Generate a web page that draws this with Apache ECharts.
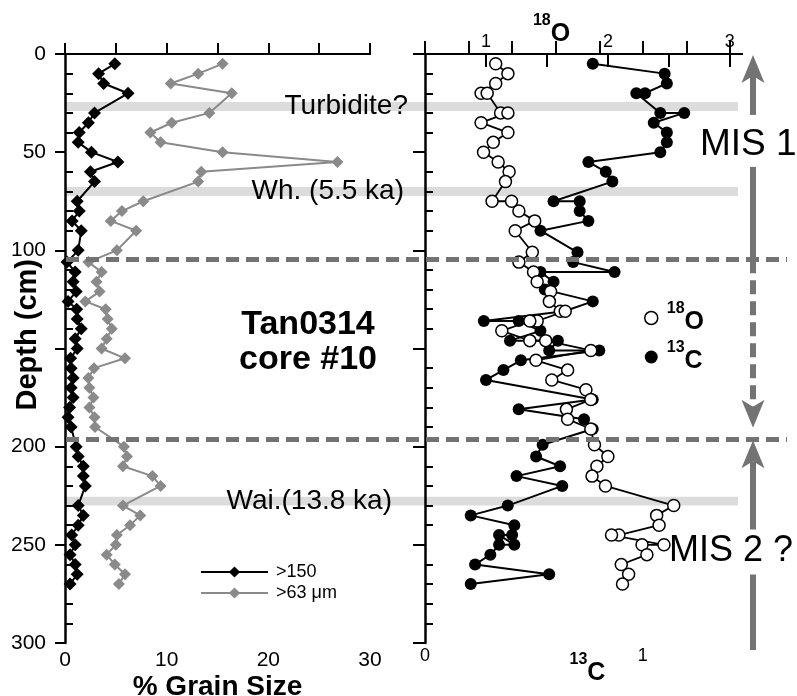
<!DOCTYPE html>
<html>
<head>
<meta charset="utf-8" />
<title>Tan0314 core #10</title>
<script src="https://cdn.jsdelivr.net/npm/echarts@6.0.0/dist/echarts.min.js"></script>
<style>
  html, body { margin: 0; padding: 0; background: #fff; }
  #main { width: 797px; height: 696px; }
</style>
</head>
<body>
<div id="main"></div>
<script>
// axes
var depthTicks = [0, 50, 100, 150, 200, 250, 300];
var depthLabels = [0, 50, 100, 200, 250, 300];
var depthMinorTicks = [10, 20, 30, 40, 60, 70, 80, 90, 110, 120, 130, 140, 160, 170, 180, 190,
  210, 220, 230, 240, 260, 270, 280, 290];
var grainTicks = [0, 5, 10, 15, 20, 25, 30];
var grainLabels = [0, 10, 20, 30];
var o18Ticks = [1, 1.5, 2, 2.5, 3];
var o18Labels = [1, 2, 3];
var c13Ticks = [0, 0.2, 0.4, 0.6, 0.8, 1, 1.2, 1.4];
var c13Labels = [0, 1];

// % grain size, left panel
var grainDepth = [5, 10, 15, 20, 30, 35, 40, 45, 50, 55, 60, 65, 75, 80, 85, 90, 100,
  106, 111, 116, 121, 126, 130, 135, 140, 145, 150, 155, 160, 165, 170, 175, 180, 185, 190,
  200, 205, 210, 215, 220, 230, 235, 240, 245, 250, 255, 260, 265, 270];
var coarsePct = [4.9, 3.3, 3.8, 6.2, 2.9, 2.3, 1.4, 1.3, 2.6, 5.2, 2.5, 2.9, 1.2, 1.4, 0.7, 1.6, 1.3,
  0.2, 1.0, 0.8, 1.1, 0.3, 1.15, 1.2, 1.6, 1.0, 1.2, 0.55, 0.6, 0.8, 0.6, 0.8, 0.45, 0.3, 0.6,
  1.1, 1.3, 1.8, 1.8, 2.0, 1.3, 1.8, 1.3, 0.65, 1.0, 0.5, 1.0, 1.2, 0.5];
var finePct = [15.5, 13.1, 10.4, 16.4, 14.2, 10.5, 8.4, 9.4, 15.5, 26.8, 13.4, 13.1, 7.7, 5.6, 4.5, 7.0, 5.1,
  2.3, 3.6, 3.1, 3.4, 2.0, 4.0, 4.2, 4.6, 4.1, 3.6, 5.9, 2.85, 2.3, 2.4, 2.8, 2.4, 2.9, 2.95,
  5.8, 6.1, 5.7, 8.6, 9.4, 5.7, 7.4, 6.4, 5.1, 5.0, 4.1, 4.9, 5.9, 5.3];

// isotopes, right panel
var o18Depth = [5, 10, 15, 20, 20, 30, 30, 35, 40, 45, 50, 55, 60, 65, 75, 75, 80, 85, 90,
  101, 106, 111, 116, 121, 126, 131, 131, 136, 136, 141, 146, 146, 151, 156, 161, 166, 171,
  176, 181, 186, 191, 199, 205, 210, 215, 220, 230, 235, 240, 245, 245, 250, 250, 255, 260, 265, 270];
var o18Value = [1.08, 1.18, 1.08, 0.96, 1.01, 1.12, 1.18, 0.96, 1.18, 1.06, 0.98, 1.10, 1.19, 1.16,
  1.05, 1.21, 1.27, 1.40, 1.24, 1.38, 1.27, 1.39, 1.42, 1.53, 1.52, 1.61, 1.65, 1.42, 1.36, 1.13,
  1.36, 1.49, 1.86, 1.41, 1.67, 1.54, 1.82, 1.86, 1.66, 1.67, 1.86, 1.89, 2.00, 1.91, 1.87, 1.98,
  2.54, 2.40, 2.42, 2.09, 2.03, 2.46, 2.28, 2.32, 2.11, 2.17, 2.12];
var c13Depth = [5, 10, 15, 20, 20, 30, 30, 35, 40, 45, 50, 55, 60, 65, 75, 75, 80, 85, 90,
  101, 106, 111, 111, 116, 120, 126, 131, 136, 136, 141, 146, 146, 151, 151, 156, 161, 166,
  176, 181, 186, 191, 199, 205, 210, 215, 220, 230, 235, 240, 245, 245, 250, 250, 255, 260, 265, 270];
var c13Value = [0.77, 1.10, 1.11, 1.01, 0.97, 1.08, 1.19, 1.05, 1.11, 1.11, 1.08, 0.75, 0.83, 0.86,
  0.59, 0.71, 0.71, 0.75, 0.53, 0.70, 0.68, 0.87, 0.53, 0.59, 0.55, 0.77, 0.64, 0.27, 0.43, 0.53,
  0.39, 0.61, 0.57, 0.80, 0.44, 0.36, 0.28, 0.77, 0.43, 0.73, 0.77, 0.54, 0.51, 0.62, 0.42, 0.63,
  0.38, 0.21, 0.41, 0.40, 0.34, 0.41, 0.34, 0.30, 0.23, 0.57, 0.21];

// ash layers and stage boundaries (cm)
var bandRanges = [[24.5, 29], [67.7, 72.3], [225.5, 230]];
var bandNames = ['Turbidite?', 'Wh. (5.5 ka)', 'Wai.(13.8 ka)'];
var misBounds = [104.5, 196];

var font = '"Liberation Sans", Arial, Helvetica, sans-serif';
var black = '#000';
var grey = '#8a8a8a';
var arrowGrey = '#737373';

function pairs(xs, ys) {
  return xs.map(function (x, i) { return [x, ys[i]]; });
}

var isoRich = {
  s: { fontSize: 16, fontWeight: 'bold', fontFamily: font, color: black, lineHeight: 34, verticalAlign: 'top' },
  b: { fontSize: 25, fontWeight: 'bold', fontFamily: font, color: black, lineHeight: 34, verticalAlign: 'bottom' }
};

var chart = echarts.init(document.getElementById('main'));

var yAxes = [];
[0, 1].forEach(function (g) {
  yAxes.push({
    gridIndex: g, type: 'value', inverse: true, min: 0, max: 300, position: 'left', z: 3,
    axisLine: { show: true, lineStyle: { color: black, width: 2.5 } },
    axisTick: { show: true, inside: false, length: g ? 12 : 10, customValues: depthTicks,
      lineStyle: { color: black, width: 2 } },
    axisLabel: { show: g === 0, customValues: depthLabels, margin: 19, fontSize: 21,
      color: black, fontFamily: font },
    splitLine: { show: false }
  });
  yAxes.push({
    gridIndex: g, type: 'value', inverse: true, min: 0, max: 300, position: 'left', z: 3,
    axisLine: { show: false },
    axisTick: { show: true, inside: true, length: 8, customValues: depthMinorTicks,
      lineStyle: { color: black, width: 2 } },
    axisLabel: { show: false },
    splitLine: { show: false }
  });
});
[2, 3].forEach(function (g) {
  yAxes.push({ gridIndex: g, type: 'value', inverse: true, min: 0, max: 300, show: false });
});

var option = {
  animation: false,
  backgroundColor: '#fff',
  textStyle: { fontFamily: font },
  grid: [
    { left: 65, right: 427, top: 54, bottom: 53, outerBoundsMode: 'none' },
    { left: 425, right: 55, top: 54, bottom: 53, outerBoundsMode: 'none' },
    { left: 66, right: 59, top: 54, bottom: 53, outerBoundsMode: 'none' },
    { left: 66, right: 10, top: 54, bottom: 53, outerBoundsMode: 'none' }
  ],
  xAxis: [
    {
      gridIndex: 0, type: 'value', position: 'bottom', min: 0, max: 30, z: 3,
      axisLine: { lineStyle: { color: black, width: 2 } },
      axisTick: { inside: true, length: 11, customValues: grainTicks, lineStyle: { color: black, width: 2 } },
      axisLabel: { customValues: grainLabels, margin: 7, fontSize: 21, color: black, fontFamily: font },
      splitLine: { show: false },
      name: '% Grain Size', nameLocation: 'middle', nameGap: 30, nameMoveOverlap: false,
      nameTextStyle: { fontSize: 28, fontWeight: 'bold', color: black, fontFamily: font, lineHeight: 28 }
    },
    {
      gridIndex: 0, type: 'value', position: 'top', min: 0, max: 30, z: 3,
      axisLine: { lineStyle: { color: black, width: 2 } },
      axisTick: { show: false }, axisLabel: { show: false }, splitLine: { show: false }
    },
    {
      gridIndex: 1, type: 'value', position: 'bottom', min: 0, max: 1.455, z: 3,
      axisLine: { lineStyle: { color: black, width: 2 } },
      axisTick: { inside: true, length: 13, customValues: c13Ticks, lineStyle: { color: black, width: 2 } },
      axisLabel: { customValues: c13Labels, margin: 4, fontSize: 18, color: black, fontFamily: font },
      splitLine: { show: false },
      name: '{s|13}{b|C}', nameLocation: 'middle', nameGap: 9, nameMoveOverlap: false,
      nameTextStyle: { rich: isoRich, padding: [0, 0, 0, 8] }
    },
    {
      gridIndex: 1, type: 'value', position: 'top', min: 0.5, max: 3.1, z: 3,
      axisLine: { lineStyle: { color: black, width: 2 } },
      axisTick: { inside: true, length: 13, customValues: o18Ticks, lineStyle: { color: black, width: 2 } },
      axisLabel: { customValues: o18Labels, margin: 3, fontSize: 18, color: black, fontFamily: font },
      splitLine: { show: false },
      name: '{s|18}{b|O}', nameLocation: 'middle', nameGap: 7, nameMoveOverlap: false,
      nameTextStyle: { rich: isoRich, padding: [0, 64, 0, 0] }
    },
    { gridIndex: 2, type: 'value', min: 0, max: 1, show: false },
    { gridIndex: 3, type: 'value', min: 0, max: 1, show: false }
  ],
  yAxis: yAxes,
  legend: [
    {
      orient: 'vertical', left: 200, top: 563, padding: 0, itemWidth: 67, itemHeight: 14, itemGap: 3,
      selectedMode: false,
      textStyle: { fontSize: 18, color: black, fontFamily: font, lineHeight: 14, padding: [0, 0, 0, 3] },
      data: ['>150', '>63 μm']
    },
    {
      orient: 'vertical', left: 644, top: 301, padding: 0, itemWidth: 13, itemHeight: 13, itemGap: 5,
      selectedMode: false, icon: 'circle',
      textStyle: { rich: isoRich, padding: [0, 0, 0, 4] },
      formatter: function (name) { return '{s|' + name.slice(0, 2) + '}{b|' + name.slice(2) + '}'; },
      data: [
        { name: '18O', itemStyle: { color: '#fff', borderColor: black, borderWidth: 1.5 } },
        { name: '13C', itemStyle: { color: black, borderWidth: 0 } }
      ]
    }
  ],
  series: [
    {
      name: 'bands', type: 'line', xAxisIndex: 4, yAxisIndex: 4, data: [], silent: true, z: 1,
      markArea: {
        silent: true,
        itemStyle: { color: '#dcdcdc' },
        data: bandRanges.map(function (r) { return [{ yAxis: r[0] }, { yAxis: r[1] }]; })
      }
    },
    {
      name: 'bounds', type: 'line', xAxisIndex: 5, yAxisIndex: 5, data: [], silent: true,
      markLine: {
        silent: true, symbol: ['none', 'none'], label: { show: false },
        lineStyle: { color: arrowGrey, width: 5, type: [13, 7] },
        data: misBounds.map(function (d) { return { yAxis: d }; })
      }
    },
    {
      name: '>150', type: 'line', xAxisIndex: 0, yAxisIndex: 0, z: 2,
      data: pairs(coarsePct, grainDepth),
      symbol: 'diamond', symbolSize: 13, showAllSymbol: true,
      itemStyle: { color: black },
      lineStyle: { color: black, width: 2 }
    },
    {
      name: '>63 μm', type: 'line', xAxisIndex: 0, yAxisIndex: 0, z: 2,
      data: pairs(finePct, grainDepth),
      symbol: 'diamond', symbolSize: 12, showAllSymbol: true,
      itemStyle: { color: grey },
      lineStyle: { color: grey, width: 2 }
    },
    {
      name: '13C', type: 'line', xAxisIndex: 2, yAxisIndex: 2, z: 2,
      data: pairs(c13Value, c13Depth),
      symbol: 'circle', symbolSize: 12, showAllSymbol: true,
      itemStyle: { color: black },
      lineStyle: { color: black, width: 2 }
    },
    {
      name: '18O', type: 'line', xAxisIndex: 3, yAxisIndex: 2, z: 2,
      data: pairs(o18Value, o18Depth),
      symbol: 'circle', symbolSize: 12, showAllSymbol: true,
      itemStyle: { color: '#fff', borderColor: black, borderWidth: 1.5 },
      lineStyle: { color: black, width: 1.8 }
    }
  ]
};

chart.setOption(option);

// annotations placed from the depth scale
function yPix(d) { return chart.convertToPixel({ yAxisIndex: 4 }, d); }

var arrowX = 753;
function head(tipY, dir) {
  var back = tipY - dir * 28, notch = tipY - dir * 21;
  return { type: 'polygon', z: 10, silent: true,
    shape: { points: [[arrowX, tipY], [arrowX + 11.5, back], [arrowX, notch], [arrowX - 11.5, back]] },
    style: { fill: arrowGrey } };
}
function shaft(y1, y2, dashed) {
  return { type: 'line', z: 10, silent: true,
    shape: { x1: arrowX, y1: y1, x2: arrowX, y2: y2 },
    style: { stroke: arrowGrey, lineWidth: 6, lineDash: dashed ? [14, 7] : null } };
}
function label(text, x, y, size, weight, align, extra) {
  var el = { type: 'text', z: 11, silent: true, x: x, y: y,
    style: { text: text, fontSize: size, fontWeight: weight, fontFamily: font, fill: black,
      align: align, verticalAlign: 'middle', lineHeight: size + 1 } };
  if (extra) { for (var k in extra) { el[k] = extra[k]; } }
  return el;
}

var top0 = yPix(0), b1 = yPix(misBounds[0]), b2 = yPix(misBounds[1]), bottom0 = yPix(300);
var mis1Y = yPix(46.3), mis2Y = yPix(253.4);
var tip1 = top0 + 1, tipDown = b2 - 11, tip2 = b2 + 1.5;

var graphics = [
  head(tip1, -1), shaft(tip1 + 21, mis1Y - 30), shaft(mis1Y + 22, b1),
  shaft(b1, tipDown - 21, true), head(tipDown, 1),
  head(tip2, -1), shaft(tip2 + 21, mis2Y - 22), shaft(mis2Y + 23, bottom0 + 7),
  label('MIS 1', 700, mis1Y, 37, 'normal', 'left'),
  label('MIS 2 ?', 669, mis2Y, 36, 'normal', 'left'),
  label('Tan0314\ncore #10', 308, yPix(147), 34, 'bold', 'center'),
  label('Depth (cm)', 28, yPix(143), 29, 'bold', 'center', { rotation: Math.PI / 2 })
];
var bandRight = [408, 404, 392];
bandRanges.forEach(function (r, i) {
  graphics.push(label(bandNames[i], bandRight[i], yPix((r[0] + r[1]) / 2), 28, 'normal', 'right'));
});

chart.setOption({ graphic: graphics });
</script>
</body>
</html>
